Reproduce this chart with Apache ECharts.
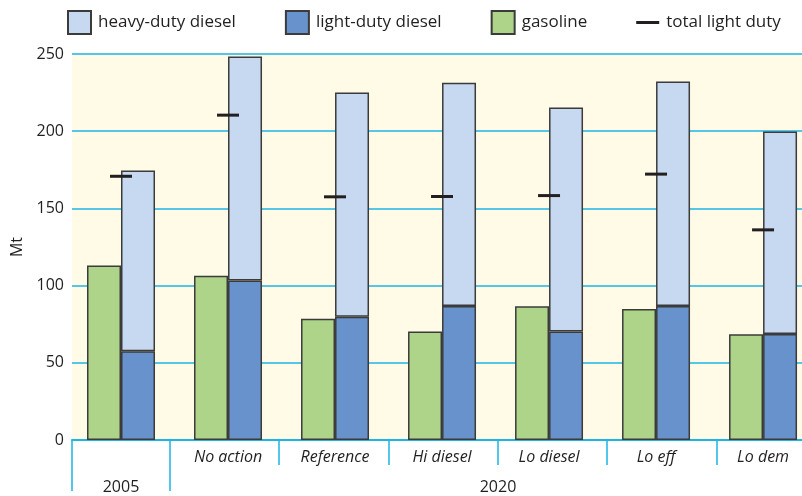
<!DOCTYPE html>
<html>
<head>
<meta charset="utf-8">
<script src="https://cdn.jsdelivr.net/npm/echarts@6/dist/echarts.min.js"></script>
<style>
  html, body { margin: 0; padding: 0; background: #fff; }
  #chart { width: 802px; height: 496px; }
</style>
</head>
<body>
<div id="chart"></div>
<script>
// scenario labels (lower level) and year labels (upper level)
const scenarios = ['', 'No action', 'Reference', 'Hi diesel', 'Lo diesel', 'Lo eff', 'Lo dem']
const years = ['2005', '2020']

// Mt
const gasoline    = [113, 106.3, 78.6, 70.2, 86.6, 84.9, 68.5]
const lightDiesel = [57.5, 103.3, 79.9, 86.8, 70.2, 86.8, 68.7]
const heavyDiesel = [117, 145.1, 145.2, 144.6, 145.2, 145.4, 131.1]
const totalLight  = [170.8, 210.4, 157.5, 157.7, 158.3, 172.2, 136.1]

const yTicks = [0, 50, 100, 150, 200, 250]

const ink = '#231f20'
const cyan = '#1db4e6'
const font = 'Open Sans'

// x is the scenario index; these bounds set where index 0 sits in the plot
const xMin = -0.458, xMax = 6.364
const dividers = [0.458, 1.477, 2.498, 3.523, 4.542, 5.567]

// value first so stacking works on the value, x index second
const pts = arr => arr.map((v, i) => [v, i])
const enc = { x: 1, y: 0 }
const barStyle = c => ({ color: c, borderColor: '#3b3b3b', borderWidth: 1.5, opacity: 1 })

const chart = echarts.init(document.getElementById('chart'), null, { renderer: 'canvas' })

chart.setOption({
  animation: false,
  backgroundColor: '#fff',
  textStyle: { fontFamily: font },
  legend: {
    left: 67, top: 10, padding: 0,
    itemWidth: 23, itemHeight: 23, itemGap: 49,
    textStyle: { fontFamily: font, fontSize: 17, color: ink, padding: [0, 0, 0, 2] },
    data: [
      { name: 'heavy-duty diesel', icon: 'rect' },
      { name: 'light-duty diesel', icon: 'rect' },
      { name: 'gasoline', icon: 'rect' },
      { name: 'total light duty', icon: 'path://M0,0M0,23M0,10h23v3h-23z' }
    ]
  },
  grid: {
    left: 72, right: 0, top: 54, bottom: 56,
    show: true, backgroundColor: '#fffbe7', borderWidth: 0,
    outerBoundsMode: 'none', containLabel: false
  },
  xAxis: [
    {
      type: 'value', min: xMin, max: xMax, position: 'bottom',
      axisLine: { show: true, onZero: false, lineStyle: { color: cyan, width: 2 } },
      axisTick: { show: false }, axisLabel: { show: false }, splitLine: { show: false }
    },
    {
      type: 'value', min: xMin, max: xMax, position: 'bottom', offset: 0,
      axisLine: { show: false },
      axisTick: { show: true, customValues: dividers, length: 25,
        lineStyle: { color: cyan, width: 1.5 } },
      axisLabel: {
        show: true, customValues: [1, 2, 3, 4, 5, 6], margin: 9,
        fontFamily: font, fontSize: 16, fontStyle: 'italic', color: ink,
        formatter: v => scenarios[Math.round(v)]
      },
      splitLine: { show: false }
    },
    {
      type: 'value', min: xMin, max: xMax, position: 'bottom', offset: 0,
      axisLine: { show: false },
      axisTick: { show: true, customValues: [xMin, dividers[0]], length: 51,
        lineStyle: { color: cyan, width: 1.5 } },
      axisLabel: {
        show: true, customValues: [0, 3.523], margin: 39,
        fontFamily: font, fontSize: 16, color: ink,
        formatter: v => (v < 1 ? years[0] : years[1])
      },
      splitLine: { show: false }
    }
  ],
  yAxis: {
    type: 'value', min: yTicks[0], max: yTicks[yTicks.length - 1], interval: 50,
    name: 'Mt', nameLocation: 'middle', nameRotate: 90, nameGap: 46,
    nameTextStyle: { fontFamily: font, fontSize: 16, color: ink },
    axisLine: { show: false }, axisTick: { show: false },
    axisLabel: { margin: 8, fontFamily: font, fontSize: 16, color: ink },
    splitLine: { show: true, lineStyle: { color: cyan, width: 1.5 } }
  },
  series: [
    {
      name: 'gasoline', type: 'bar', xAxisIndex: 0, stack: 'gas', encode: enc,
      barWidth: 34, data: pts(gasoline), itemStyle: barStyle('#aed48a')
    },
    {
      name: 'light-duty diesel', type: 'bar', xAxisIndex: 0, stack: 'diesel', encode: enc,
      barWidth: 34, data: pts(lightDiesel), itemStyle: barStyle('#6892cb')
    },
    {
      name: 'heavy-duty diesel', type: 'bar', xAxisIndex: 0, stack: 'diesel', encode: enc,
      barWidth: 34, barGap: '0%', data: pts(heavyDiesel), itemStyle: barStyle('#c7d9f1')
    },
    {
      name: 'total light duty', type: 'scatter', xAxisIndex: 0, encode: enc,
      symbol: 'rect', symbolSize: [22, 3], data: pts(totalLight),
      itemStyle: { color: ink, opacity: 1 }, z: 5
    }
  ]
})
</script>
</body>
</html>
